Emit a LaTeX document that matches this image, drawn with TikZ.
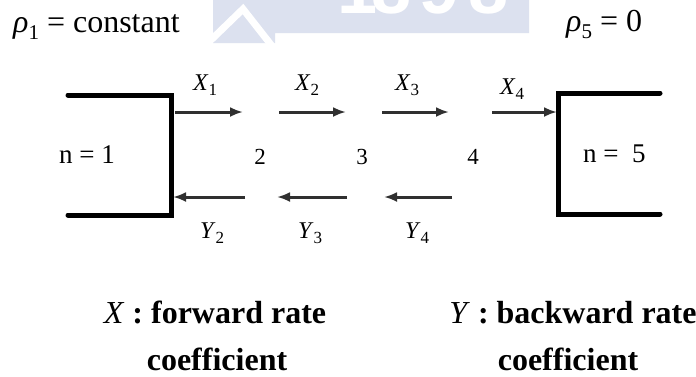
\documentclass[tikz,border=0pt]{standalone}
\usepackage{fontspec}
\setmainfont{Liberation Serif}
\newfontfamily\logofont{Liberation Sans}
\usetikzlibrary{arrows.meta}
\definecolor{logoblue}{HTML}{DCE1EF}
\definecolor{ratecol}{HTML}{303030}

% rate label: italic letter with upright subscript
\newcommand{\ratelbl}[2]{\fontsize{24}{24}\selectfont\textit{#1}\raisebox{-5pt}{\fontsize{17}{17}\selectfont #2}}
% density symbol with subscript
\newcommand{\dens}[1]{\textit{ρ}\raisebox{-7pt}{\fontsize{21}{21}\selectfont #1}}

\tikzset{
  wall/.style={line width=5pt, line cap=round, line join=miter},
  rate/.style={ratecol, line width=3pt, -{Latex[length=13pt,width=10pt]}},
  lbl/.style={inner sep=0pt, anchor=base west},
  big/.style={inner sep=0pt, font=\fontsize{32}{38}\selectfont},
  site/.style={inner sep=0pt, anchor=base, font=\fontsize{23}{23}\selectfont},
  cell/.style={inner sep=0pt, anchor=base west, font=\fontsize{27}{27}\selectfont},
}

\begin{document}
\begin{tikzpicture}[x=1pt, y=-1pt]
\useasboundingbox (0,0) rectangle (696,376);
\fill[white] (0,0) rectangle (696,376);

% faint logo band at the top
\fill[logoblue] (213,0) -- (529,0) -- (529,33) -- (275,33) -- (275,43) -- (213,43) -- cycle;
\draw[white, line width=7pt] (211,40) -- (243,9) -- (272,46);
\begin{scope}
  \clip (213,0) rectangle (529,33);
  \foreach \d/\cx in {1/358, 8/392, 9/440, 8/489}
    \node[white, inner sep=0pt, anchor=base, font=\logofont\bfseries\fontsize{72}{72}\selectfont] at (\cx,13) {\d};
\end{scope}

% boundary conditions
\node[big, anchor=base west] (rho1) at (13,32) {\dens{1} = constant};
\node[big, anchor=base west] (rho5) at (566,31) {\dens{5} = 0};

% reservoir walls
\draw[wall] (68,95) -- (171,95) -- (171,215) -- (68,215);
\draw[wall] (660,93) -- (558,93) -- (558,214) -- (660,214);

\node[cell] (n1) at (59,163) {n = 1};
\node[cell] (n5) at (583,162) {n =\ \ 5};

% interior sites
\node[site] (s2) at (260,164) {2};
\node[site] (s3) at (362,164) {3};
\node[site] (s4) at (473,164) {4};

% arrow end points
\coordinate (f1a) at (175,112); \coordinate (f1b) at (243,112);
\coordinate (f2a) at (279,112); \coordinate (f2b) at (346,112);
\coordinate (f3a) at (382,112); \coordinate (f3b) at (449,112);
\coordinate (f4a) at (492,112); \coordinate (f4b) at (557,112);
\coordinate (b2a) at (245,197); \coordinate (b2b) at (173,197);
\coordinate (b3a) at (347,197); \coordinate (b3b) at (277,197);
\coordinate (b4a) at (452,197); \coordinate (b4b) at (384,197);

% forward and backward transitions
\draw[rate] (f1a) -- (f1b);
\draw[rate] (f2a) -- (f2b);
\draw[rate] (f3a) -- (f3b);
\draw[rate] (f4a) -- (f4b);
\draw[rate] (b2a) -- (b2b);
\draw[rate] (b3a) -- (b3b);
\draw[rate] (b4a) -- (b4b);

\node[lbl] (x1) at (193,90) {\ratelbl{X}{1}};
\node[lbl] (x2) at (295,90) {\ratelbl{X}{2}};
\node[lbl] (x3) at (395,90) {\ratelbl{X}{3}};
\node[lbl] (x4) at (500,94) {\ratelbl{X}{4}};
\node[lbl] (y2) at (200,238) {\ratelbl{Y}{2}};
\node[lbl] (y3) at (298,238) {\ratelbl{Y}{3}};
\node[lbl] (y4) at (405,238) {\ratelbl{Y}{4}};

% legend
\node[big, anchor=base] (fwd) at (215,323) {\textit{X}\textbf{ : forward rate}};
\node[big, anchor=base] (fwdc) at (217,370) {\textbf{coefficient}};
\node[big, anchor=base] (bwd) at (573,323) {\textit{Y}\textbf{ : backward rate}};
\node[big, anchor=base] (bwdc) at (568,370) {\textbf{coefficient}};
\end{tikzpicture}
\end{document}
